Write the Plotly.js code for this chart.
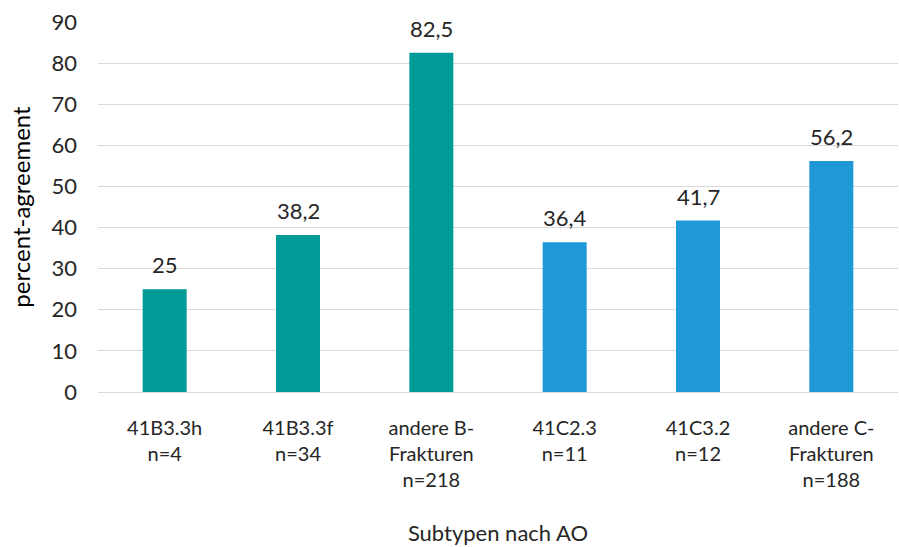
<!DOCTYPE html>
<html><head><meta charset="utf-8">
<script src="https://cdn.plot.ly/plotly-3.0.1.min.js"></script>
<style>html,body{margin:0;padding:0;background:#fff}#c{width:899px;height:547px}</style>
</head><body><div id="c"></div>
<script>
var categories = ["41B3.3h<br>n=4", "41B3.3f<br>n=34", "andere B-<br>Frakturen<br>n=218", "41C2.3<br>n=11", "41C3.2<br>n=12", "andere C-<br>Frakturen<br>n=188"];
var values = [25, 38.2, 82.5, 36.4, 41.7, 56.2];
var valueLabels = ["25", "38,2", "82,5", "36,4", "41,7", "56,2"];
var barColors = ["#009B98", "#009B98", "#009B98", "#1F98D8", "#1F98D8", "#1F98D8"];
var yTicks = [0, 10, 20, 30, 40, 50, 60, 70, 80, 90];

var font = "Lato, 'Open Sans', sans-serif";
var txtColor = "#262626";
var trace = {
  type: "bar", x: categories, y: values,
  marker: {color: barColors}, hoverinfo: "none"
};
var annotations = categories.map(function (c, i) {
  return {x: c, y: values[i], xref: "x", yref: "y", text: valueLabels[i],
    showarrow: false, yanchor: "bottom", yshift: 9,
    font: {family: font, size: 22, color: txtColor}};
});
var layout = {
  width: 899, height: 547,
  margin: {l: 98, r: 1, t: 22, b: 155},
  paper_bgcolor: "#fff", plot_bgcolor: "#fff",
  showlegend: false, bargap: 0.67,
  font: {family: font, size: 20, color: txtColor},
  annotations: annotations,
  xaxis: {
    type: "category", showgrid: false, ticks: "", ticklabelstandoff: 18,
    showline: true, linecolor: "#d9d9d9", linewidth: 1,
    tickfont: {family: font, size: 20, color: txtColor},
    title: {text: "Subtypen nach AO", standoff: 35, font: {family: font, size: 22, color: txtColor}}
  },
  yaxis: {
    range: [0, 90], tickvals: yTicks, ticktext: yTicks.map(String),
    showgrid: true, gridcolor: "#d9d9d9", gridwidth: 1, zeroline: false,
    ticks: "", ticklabelstandoff: 20, showline: false,
    tickfont: {family: font, size: 22, color: txtColor},
    title: {text: "percent-agreement", standoff: 14, font: {family: font, size: 24, color: "#000"}}
  }
};
Plotly.newPlot("c", [trace], layout, {displayModeBar: false, staticPlot: true});
</script></body></html>
